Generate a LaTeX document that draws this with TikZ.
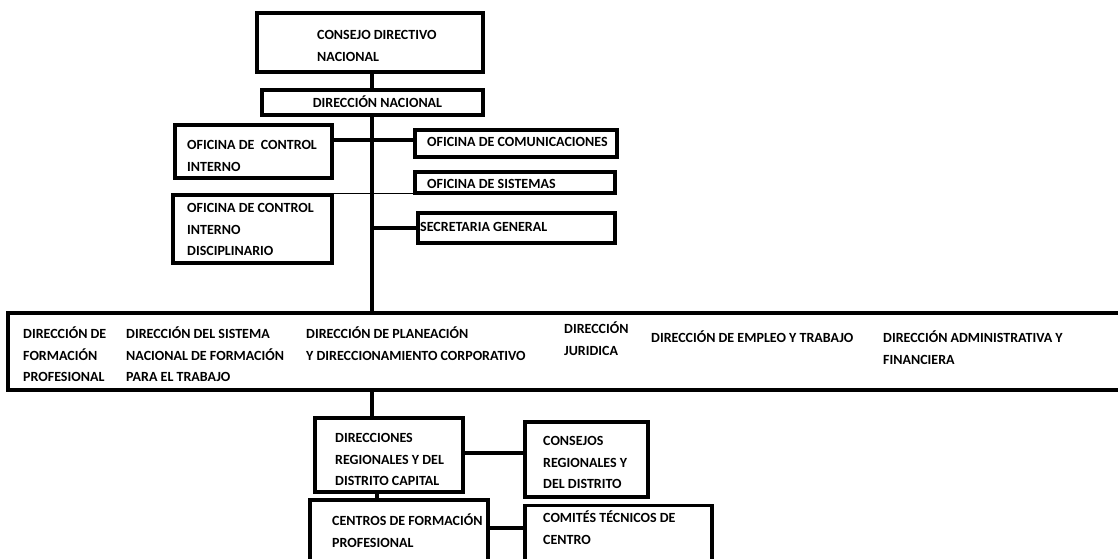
\documentclass[tikz,border=0pt]{standalone}
\usepackage{fontspec}
\setmainfont{Carlito}
\newcommand{\fl}{\rule{0pt}{13.5pt}}
\begin{document}
\begin{tikzpicture}[x=1pt,y=-1pt,
  box/.style={draw,line width=3.7pt,inner sep=0pt,rectangle},
  lbl/.style={anchor=north west,inner sep=0pt,align=left,font=\bfseries\fontsize{14}{21.5}\selectfont},
  con/.style={line width=3.2pt},
  thin/.style={line width=1.3pt}]
\useasboundingbox (0,0) rectangle (1118,558);
\clip (0,0) rectangle (1118,558);
% boxes
\node[box,minimum width=226pt,minimum height=59pt] (cdn) at (370,42.5) {};
\node[box,minimum width=221pt,minimum height=25pt] (dn) at (372.5,102.5) {};
\node[box,minimum width=157pt,minimum height=53pt] (oci) at (253.5,151.5) {};
\node[box,minimum width=202pt,minimum height=27pt] (oc) at (516,143.5) {};
\node[box,minimum width=200pt,minimum height=21pt] (os) at (515,182.5) {};
\node[box,minimum width=159pt,minimum height=68pt] (ocid) at (252.5,229) {};
\node[box,minimum width=197pt,minimum height=30pt] (sg) at (516.5,228) {};
\node[box,minimum width=1130pt,minimum height=77pt] (big) at (573,351.5) {};
\node[box,minimum width=148pt,minimum height=74pt] (dr) at (389,455) {};
\node[box,minimum width=123pt,minimum height=75pt] (cr) at (586.5,459.5) {};
\node[box,minimum width=178pt,minimum height=100pt] (cf) at (399,550) {};
\node[box,minimum width=187pt,minimum height=95pt] (ct) at (618.5,553) {};
% texts
\node[lbl] (tcdn) at (317,26) {\fl CONSEJO DIRECTIVO\\NACIONAL};
\node[lbl,anchor=north] (tdn) at (377.5,94) {\fl DIRECCIÓN NACIONAL};
\node[lbl] (toci) at (187,136) {\fl OFICINA DE\ \ CONTROL\\INTERNO};
\node[lbl] (toc) at (427,133) {\fl OFICINA DE COMUNICACIONES};
\node[lbl] (tos) at (427,175) {\fl OFICINA DE SISTEMAS};
\node[lbl] (tocid) at (187,199) {\fl OFICINA DE CONTROL\\INTERNO\\DISCIPLINARIO};
\node[lbl] (tsg) at (420,218) {\fl SECRETARIA GENERAL};
\node[lbl] (tb1) at (23,325) {\fl DIRECCIÓN DE\\FORMACIÓN\\PROFESIONAL};
\node[lbl] (tb2) at (126,325) {\fl DIRECCIÓN DEL SISTEMA\\NACIONAL DE FORMACIÓN\\PARA EL TRABAJO};
\node[lbl] (tb3) at (306,325) {\fl DIRECCIÓN DE PLANEACIÓN\\Y DIRECCIONAMIENTO CORPORATIVO};
\node[lbl] (tb4) at (564,320) {\fl DIRECCIÓN\\JURIDICA};
\node[lbl] (tb5) at (651,329) {\fl DIRECCIÓN DE EMPLEO Y TRABAJO};
\node[lbl] (tb6) at (883,329) {\fl DIRECCIÓN ADMINISTRATIVA Y\\FINANCIERA};
\node[lbl] (tdr) at (335,429) {\fl DIRECCIONES\\REGIONALES Y DEL\\DISTRITO CAPITAL};
\node[lbl] (tcr) at (543,432) {\fl CONSEJOS\\REGIONALES Y\\DEL DISTRITO};
\node[lbl] (tcf) at (332,512) {\fl CENTROS DE FORMACIÓN\\PROFESIONAL};
\node[lbl] (tct) at (543,509) {\fl COMITÉS TÉCNICOS DE\\CENTRO};
% connectors
\coordinate (t1) at (372,0);
\coordinate (t2) at (377,0);
\coordinate (cy0) at (0,140);
\draw[con] (cdn.south -| t1) -- (dn.north -| t1);
\draw[con] (dn.south -| t1) -- (big.north -| t1);
\draw[con] (cy0 -| oci.east) -- (cy0 -| oc.west);
\draw[thin] (ocid.north east) -- (ocid.north east -| os.west);
\draw[con] (sg.west -| t1) -- (sg.west);
\draw[con] (big.south -| t1) -- (dr.north -| t1);
\coordinate (cy1) at (0,453);
\draw[con] (cy1 -| dr.east) -- (cy1 -| cr.west);
\draw[con] (dr.south -| t2) -- (cf.north -| t2);
\coordinate (cy2) at (0,528);
\draw[con] (cy2 -| cf.east) -- (cy2 -| ct.west);
\end{tikzpicture}
\end{document}
